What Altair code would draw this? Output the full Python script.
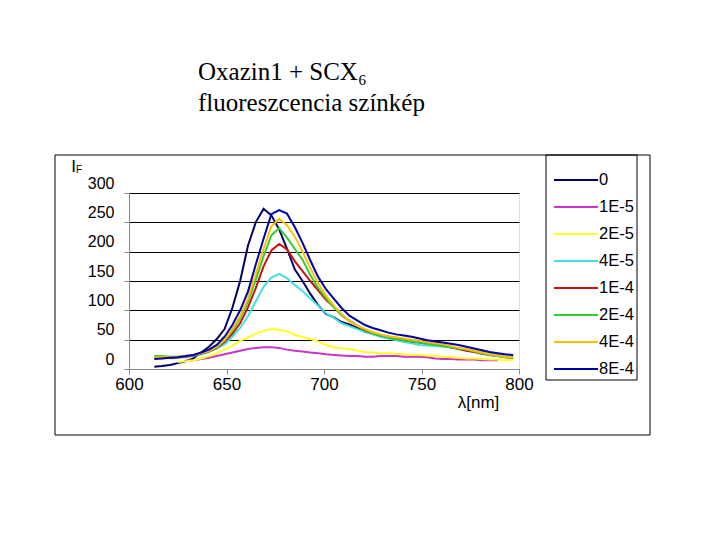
import altair as alt
import pandas as pd

# wavelength grid (nm)
WAVELENGTH = [613, 617, 621, 625, 629, 633, 637, 641, 645, 649, 653, 657, 661, 665,
              669, 673, 677, 681, 685, 689, 693, 697, 701, 705, 709, 713, 717, 721,
              725, 729, 733, 737, 741, 745, 749, 753, 757, 761, 765, 769, 773, 777,
              781, 785, 789, 793, 797]

SERIES = ["0", "1E-5", "2E-5", "4E-5", "1E-4", "2E-4", "4E-4", "8E-4"]
COLORS = ["#000066", "#cc33cc", "#ffff22", "#44e0e0", "#cc1111", "#33cc33", "#ffbf00", "#0000aa"]

I_0 = [4, 5, 7, 10, 13, 18, 28, 38, 51, 68, 104, 150, 210, 250,
       273, 262, 238, 205, 170, 150, 128, 109, 94, 88, 80, 76, 70, 64,
       61, 57, 55, 52, 50, 47, 45, 43, 42, 40, 37, 35, 32, 30,
       28, 25, 23, 22, 21]
I_1E5 = [None, None, None, None, 14, 15, 17, 19, 22, 25, 28, 31, 34, 36,
         37, 37, 36, 33, 31, 30, 28, 27, 25, 24, 23, 22, 22, 21,
         21, 22, 22, 22, 21, 21, 21, 20, 18, 17, 17, 16, 16, 16,
         15, 15, 15, None, None]
I_2E5 = [None, None, None, 12, 13, 15, 18, 22, 27, 33, 40, 48, 54, 60,
         65, 68, 67, 64, 58, 54, 51, 47, 41, 37, 35, 34, 31, 29,
         28, 27, 27, 26, 25, 24, 24, 23, 22, 21, 20, 19, 18, 18,
         17, 16, 16, 15, 15]
I_4E5 = [None, None, 18, 19, 20, 22, 25, 29, 35, 42, 55, 70, 90, 115,
         140, 156, 162, 155, 143, 133, 120, 108, 95, 87, 78, 73, 68, 63,
         59, 55, 52, 49, 46, 44, 41, 40, 39, 38, 37, 35, 33, 31,
         28, 26, 24, 23, 22]
I_1E4 = [19, 19, 19, 20, 21, 23, 26, 30, 36, 46, 60, 78, 105, 138,
         175, 202, 213, 204, 184, 167, 150, 134, 118, 106, 92, 82, 74, 66,
         61, 57, 54, 51, 49, 47, 46, 44, 42, 40, 37, 34, 31, 29,
         26, 24, 22, 20, 19]
I_2E4 = [22, 22, 21, 21, 22, 24, 27, 31, 37, 48, 65, 86, 115, 152,
         192, 228, 240, 224, 205, 186, 160, 138, 121, 105, 92, 82, 74, 67,
         61, 57, 54, 51, 49, 47, 45, 43, 41, 39, 37, 35, 33, 30,
         27, 24, 22, 20, 19]
I_4E4 = [20, 20, 20, 21, 22, 24, 27, 31, 38, 50, 68, 90, 120, 162,
         205, 243, 256, 245, 226, 200, 172, 146, 125, 108, 94, 81, 74, 68,
         63, 59, 56, 54, 52, 50, 48, 46, 44, 42, 39, 36, 34, 31,
         28, 25, 23, 21, 20]
I_8E4 = [17, 18, 19, 20, 22, 24, 28, 33, 41, 55, 75, 100, 132, 178,
         222, 264, 271, 265, 242, 215, 185, 157, 136, 120, 104, 91, 83, 75,
         70, 66, 62, 59, 57, 55, 52, 49, 47, 45, 43, 41, 38, 35,
         32, 29, 27, 25, 24]

VALUES = [I_0, I_1E5, I_2E5, I_4E5, I_1E4, I_2E4, I_4E4, I_8E4]

rows = []
for k, (name, vals) in enumerate(zip(SERIES, VALUES)):
    for wl, v in zip(WAVELENGTH, vals):
        if v is not None:
            rows.append({"wl": wl, "I": v, "series": name, "k": k})
df = pd.DataFrame(rows)

FONT = "Liberation Sans"

lines = alt.Chart(df).mark_line(strokeWidth=2).encode(
    x=alt.X("wl:Q", scale=alt.Scale(domain=[600, 800], nice=False),
            axis=alt.Axis(values=[600, 650, 700, 750, 800], title="λ[nm]",
                          titleX=349, titleY=33, titleAlign="center",
                          titleBaseline="middle", titleFont=FONT, titleFontSize=17,
                          titleFontWeight="normal", grid=False, labelFlush=False,
                          labelFont=FONT, labelFontSize=17, labelPadding=2,
                          tickSize=5)),
    y=alt.Y("I:Q", scale=alt.Scale(domain=[0, 300], nice=False),
            axis=alt.Axis(values=[0, 50, 100, 150, 200, 250, 300], title="I",
                          titleAngle=0, titleX=-56, titleY=-18, titleAlign="center",
                          titleBaseline="bottom", titleFont=FONT, titleFontSize=17,
                          titleFontWeight="normal", grid=True, gridColor="black",
                          gridOpacity=1, labelOffset=-10, labelFont=FONT,
                          labelFontSize=16, labelPadding=10, tickSize=5)),
    color=alt.Color("series:N", scale=alt.Scale(domain=SERIES, range=COLORS),
                    legend=alt.Legend(title=None, orient="none", legendX=429,
                                      legendY=-31, symbolType="M-1.31,0H1.31",
                                      symbolSize=1133, symbolStrokeWidth=2,
                                      symbolFillColor="transparent",
                                      labelFont=FONT, labelFontSize=16.5,
                                      labelOffset=5, rowPadding=0, padding=0)),
    detail="k:O",
)

frame_data = alt.Data(values=[{"a": 1}])
outer = alt.Chart(frame_data).mark_rect(fillOpacity=0, stroke="black", strokeWidth=1).encode(
    x=alt.value(-74), x2=alt.value(521), y=alt.value(-38), y2=alt.value(242))
legend_box = alt.Chart(frame_data).mark_rect(fillOpacity=0, stroke="black", strokeWidth=1).encode(
    x=alt.value(417), x2=alt.value(508), y=alt.value(-38), y2=alt.value(187))
sub_f = alt.Chart(frame_data).mark_text(text="F", font=FONT, fontSize=10,
                                        align="left", baseline="bottom").encode(
    x=alt.value(-53), y=alt.value(-18))

chart = alt.layer(outer, legend_box, lines, sub_f).properties(
    width=390, height=176,
    autosize=alt.AutoSizeParams(type="none"),
    padding={"left": 121, "top": 185, "right": 190, "bottom": 150},
    title=alt.TitleParams(text=["Oxazin1 + SCX₆", "fluoreszcencia színkép"],
                          anchor="start", frame="group", dx=69, offset=39,
                          font="Liberation Serif", fontSize=25, fontWeight="normal",
                          lineHeight=31, color="black"),
).configure_view(stroke="black", strokeWidth=1).configure_axis(
    domainColor="black", tickColor="black", labelColor="black", titleColor="black"
).configure(background="white")

chart.save("out.html", embed_options={"renderer": "svg", "actions": False})
